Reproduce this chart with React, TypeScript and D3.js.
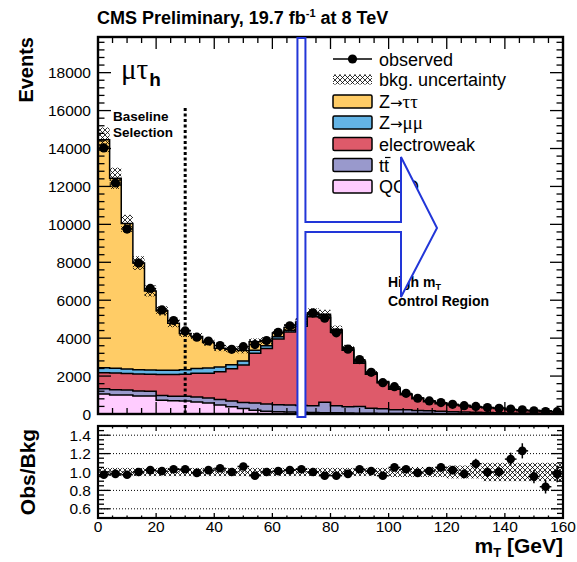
import React from 'react';
import * as d3 from 'd3';

// ---------- data ----------
const binLow = [0, 4, 8, 12, 16, 20, 24, 28, 32, 36, 40, 44, 48, 52, 56, 60, 64, 68, 72, 76,
  80, 84, 88, 92, 96, 100, 104, 108, 112, 116, 120, 124, 128, 132, 136, 140, 144, 148, 152, 156];
const binWidth = 4;

const observed = [14030, 12180, 9750, 7960, 6620, 5490, 4930, 4380, 4050, 3850,
  3610, 3410, 3550, 3660, 3870, 4310, 4650, 5000, 5330, 5050,
  4280, 3420, 2870, 2200, 1650, 1440, 1090, 830, 690, 600,
  510, 440, 400, 340, 300, 260, 220, 170, 130, 120];

const ratioObs = [0.97, 0.98, 0.97, 1.00, 1.02, 1.01, 1.03, 1.03, 0.99, 1.02,
  1.04, 1.00, 1.06, 0.96, 1.00, 1.01, 1.02, 1.03, 1.00, 0.96,
  0.96, 0.98, 1.03, 1.01, 0.96, 1.05, 1.03, 0.99, 1.01, 1.05,
  1.02, 0.98, 1.09, 1.00, 1.00, 1.14, 1.23, 0.95, 0.84, 0.98];

const qcd = [1050, 1000, 1000, 950, 950, 720, 700, 680, 630, 580,
  480, 380, 290, 200, 150, 120, 100, 90, 80, 70,
  60, 50, 40, 40, 30, 30, 20, 20, 20, 10,
  10, 10, 10, 5, 5, 5, 5, 5, 5, 5];

const ttbar = [280, 280, 270, 260, 250, 250, 240, 250, 260, 270,
  280, 310, 320, 380, 380, 370, 380, 360, 350, 550,
  380, 330, 350, 260, 250, 200, 210, 170, 150, 130,
  110, 100, 80, 70, 60, 50, 40, 40, 30, 30];

const electroweak = [850, 880, 860, 900, 900, 1110, 1140, 1170, 1260, 1300,
  1470, 1690, 1980, 2620, 2920, 3460, 3840, 4180, 4700, 4460,
  3870, 2980, 2290, 1790, 1370, 1080, 780, 610, 480, 405,
  360, 324, 267, 255, 227, 168, 130, 130, 116, 82];

const zMuMu = [260, 250, 240, 230, 220, 230, 230, 240, 250, 270,
  250, 220, 200, 160, 150, 120, 100, 100, 100, 90,
  80, 70, 60, 50, 40, 35, 30, 25, 20, 15,
  12, 10, 8, 6, 5, 4, 3, 3, 2, 2];

const zTauTau = [12020, 10020, 7680, 5620, 4170, 3130, 2480, 1910, 1690, 1350,
  990, 810, 560, 450, 270, 200, 140, 120, 100, 90,
  70, 60, 50, 40, 30, 25, 20, 15, 12, 10,
  8, 6, 5, 4, 3, 3, 2, 2, 2, 1];

const bkgRelUnc = [0.045, 0.045, 0.045, 0.045, 0.045, 0.045, 0.045, 0.045, 0.045, 0.045,
  0.045, 0.045, 0.045, 0.045, 0.045, 0.045, 0.045, 0.045, 0.045, 0.045,
  0.045, 0.045, 0.045, 0.045, 0.045, 0.055, 0.055, 0.055, 0.055, 0.055,
  0.07, 0.07, 0.07, 0.1, 0.1, 0.1, 0.1, 0.1, 0.1, 0.1];

const xTicks = [0, 20, 40, 60, 80, 100, 120, 140, 160];
const yTicks = [0, 2000, 4000, 6000, 8000, 10000, 12000, 14000, 16000, 18000];
const ratioTicks = [0.6, 0.8, 1.0, 1.2, 1.4];
const ratioTickLabels = ['0.6', '0.8', '1.0', '1.2', '1.4'];

const layerKeys = ['qcd', 'tt', 'ew', 'zmm', 'ztt'];
const layerColors: Record<string, string> = {
  ztt: '#ffcc66', zmm: '#63b4e6', ew: '#de5a6a', tt: '#9999cc', qcd: '#ffccff',
};

const FONT = "'Liberation Sans', Arial, Helvetica, sans-serif";
const SERIF = "'Liberation Serif', 'DejaVu Serif', serif";

export default function App() {
  const W = 577, H = 562;
  const L = 98, R = 563, T = 37, B = 414, RT = 426, RB = 518;
  const x = d3.scaleLinear().domain([0, 160]).range([L, R]);
  const y = d3.scaleLinear().domain([0, 19880]).range([B, T]);
  const yr = d3.scaleLinear().domain([0.5, 1.5]).range([RB, RT]);

  const rows = binLow.map((lo, i) => ({
    lo, qcd: qcd[i], tt: ttbar[i], ew: electroweak[i], zmm: zMuMu[i], ztt: zTauTau[i],
  }));
  const stacked = d3.stack<any>().keys(layerKeys)(rows);
  const total = rows.map(r => r.qcd + r.tt + r.ew + r.zmm + r.ztt);

  const area = d3.area<{ x: number; v: number }>()
    .x(d => x(d.x)).y0(y(0)).y1(d => y(d.v));
  const layerPath = (s: any) => area(s.flatMap((d: any, i: number) => [
    { x: binLow[i], v: d[1] }, { x: binLow[i] + binWidth, v: d[1] }]));

  const majorX = xTicks;
  const minorX = d3.range(0, 161, 5).filter(v => v % 20 !== 0);
  const minorY = d3.range(0, 19880, 400).filter(v => v % 2000 !== 0);
  const minorR = d3.range(0.5, 1.501, 0.05).map(v => +v.toFixed(2)).filter(v => Math.abs(v * 5 - Math.round(v * 5)) > 1e-6);

  const bx = x(70);
  const arrowPts = [
    [bx - 4, 38], [bx - 4, 417], [bx + 4, 417], [bx + 4, 232], [401, 232], [401, 297],
    [437, 228], [401, 157], [401, 222], [bx + 4, 222], [bx + 4, 38],
  ];

  const legendRows = [
    { y: 59, kind: 'obs', label: 'observed' },
    { y: 79.5, kind: 'unc', label: 'bkg. uncertainty' },
    { y: 101.5, kind: 'ztt' },
    { y: 122.5, kind: 'zmm' },
    { y: 144, kind: 'ew', label: 'electroweak' },
    { y: 165, kind: 'tt' },
    { y: 186.5, kind: 'qcd', label: 'QCD' },
  ];

  return (
    <svg width={W} height={H} style={{ position: 'absolute', left: 0, top: 0, background: '#fff' }}
      fontFamily={FONT}>
      <defs>
        <pattern id="hatch" width="5" height="5" patternUnits="userSpaceOnUse">
          <path d="M0,0 L5,5 M5,0 L0,5" stroke="#000" strokeWidth="0.8" />
        </pattern>
        <clipPath id="clipMain"><rect x={L} y={T} width={R - L} height={B - T} /></clipPath>
        <clipPath id="clipRatio"><rect x={L} y={RT} width={R - L} height={RB - RT} /></clipPath>
      </defs>
      <rect x={0} y={0} width={W} height={H} fill="#fff" />

      {/* title */}
      <text x={97} y={24} fontSize={18} fontWeight="bold">
        CMS Preliminary, 19.7 fb<tspan dy={-7} fontSize={11}>-1</tspan><tspan dy={7}> at 8 TeV</tspan>
      </text>

      {/* main plot */}
      <g clipPath="url(#clipMain)">
        {[...stacked].reverse().map(s => (
          <path key={s.key} d={layerPath(s) || ''} fill={layerColors[s.key]} stroke="#000" strokeWidth={1.5} strokeLinejoin="miter" />
        ))}
        {binLow.map((lo, i) => (
          <rect key={'u' + i} x={x(lo)} width={x(lo + binWidth) - x(lo)}
            y={y(total[i] * (1 + bkgRelUnc[i]))}
            height={y(total[i] * (1 - bkgRelUnc[i])) - y(total[i] * (1 + bkgRelUnc[i]))}
            fill="url(#hatch)" />
        ))}
        <line x1={x(30)} x2={x(30)} y1={108} y2={B} stroke="#000" strokeWidth={3} strokeDasharray="3,2.5" />
        {binLow.map((lo, i) => {
          const c = lo + binWidth / 2;
          const e = Math.sqrt(observed[i]);
          return (
            <g key={'o' + i}>
              <line x1={x(lo)} x2={x(lo + binWidth)} y1={y(observed[i])} y2={y(observed[i])} stroke="#000" strokeWidth={1.2} />
              <line x1={x(c)} x2={x(c)} y1={y(observed[i] + e)} y2={y(observed[i] - e)} stroke="#000" strokeWidth={1.5} />
              <circle cx={x(c)} cy={y(observed[i])} r={4.6} fill="#000" />
            </g>
          );
        })}
      </g>

      {/* main frame & ticks */}
      <g stroke="#000" strokeWidth={1.3}>
        {majorX.map(v => (<g key={'mx' + v}>
          <line x1={x(v)} x2={x(v)} y1={B} y2={B - 12} />
          <line x1={x(v)} x2={x(v)} y1={T} y2={T + 12} />
        </g>))}
        {minorX.map(v => (<g key={'nx' + v}>
          <line x1={x(v)} x2={x(v)} y1={B} y2={B - 6} />
          <line x1={x(v)} x2={x(v)} y1={T} y2={T + 6} />
        </g>))}
        {yTicks.map(v => (<g key={'my' + v}>
          <line x1={L} x2={L + 13} y1={y(v)} y2={y(v)} />
          <line x1={R} x2={R - 13} y1={y(v)} y2={y(v)} />
        </g>))}
        {minorY.map(v => (<g key={'ny' + v}>
          <line x1={L} x2={L + 6.5} y1={y(v)} y2={y(v)} />
          <line x1={R} x2={R - 6.5} y1={y(v)} y2={y(v)} />
        </g>))}
        <rect x={L} y={T} width={R - L} height={B - T} fill="none" strokeWidth={2.4} />
      </g>
      {yTicks.map(v => (
        <text key={'ly' + v} x={91} y={y(v) + 5.5} fontSize={15.5} textAnchor="end">{v}</text>
      ))}
      <text transform={`translate(33,37) rotate(-90)`} fontSize={20} fontWeight="bold" textAnchor="end">Events</text>

      {/* annotations */}
      <text x={121} y={79} fontSize={29} fontFamily={SERIF}>μτ<tspan dx={1} dy={7} fontSize={19} fontWeight="bold" fontFamily={FONT}>h</tspan></text>
      <text x={113} y={121} fontSize={13.5} fontWeight="bold">Baseline</text>
      <text x={113} y={137} fontSize={13.5} fontWeight="bold">Selection</text>
      <text x={388} y={287} fontSize={14} fontWeight="bold">High m<tspan dy={3} fontSize={9}>T</tspan></text>
      <text x={388} y={306} fontSize={14} fontWeight="bold">Control Region</text>

      {/* legend */}
      {legendRows.map(r => {
        const tx = 379, ty = r.y + 6.5;
        let sym: React.ReactNode = null;
        if (r.kind === 'obs') {
          sym = <g><line x1={333} x2={372} y1={r.y} y2={r.y} stroke="#000" strokeWidth={1.5} /><circle cx={352.5} cy={r.y} r={4.6} /></g>;
        } else if (r.kind === 'unc') {
          sym = <rect x={333} y={r.y - 5} width={39} height={10} fill="url(#hatch)" />;
        } else {
          sym = <rect x={333} y={r.y - 6.5} width={39} height={13} rx={1.5} fill={layerColors[r.kind]} stroke="#000" strokeWidth={1.5} />;
        }
        let label: React.ReactNode = r.label;
        if (r.kind === 'ztt') label = <>Z<tspan fontFamily="'DejaVu Sans', sans-serif" fontSize={15}>→</tspan><tspan fontFamily={SERIF} fontSize={19}>ττ</tspan></>;
        if (r.kind === 'zmm') label = <>Z<tspan fontFamily="'DejaVu Sans', sans-serif" fontSize={15}>→</tspan><tspan fontFamily={SERIF} fontSize={19}>μμ</tspan></>;
        if (r.kind === 'tt') label = <>tt</>;
        return (
          <g key={'lg' + r.kind}>
            {sym}
            <text x={tx} y={ty} fontSize={18}>{label}</text>
            {r.kind === 'tt' && <line x1={385} x2={390.5} y1={ty - 14} y2={ty - 14} stroke="#000" strokeWidth={1.2} />}
          </g>
        );
      })}

      {/* arrow overlay */}
      <polygon points={arrowPts.map(p => p.join(',')).join(' ')} fill="#ffffff" stroke="#2236d8" strokeWidth={2} strokeLinejoin="miter" />

      {/* ratio panel */}
      <g stroke="#000" strokeWidth={1} strokeDasharray="1,2">
        {ratioTicks.map(v => <line key={'g' + v} x1={L} x2={R} y1={yr(v)} y2={yr(v)} />)}
      </g>
      <g clipPath="url(#clipRatio)">
        {binLow.map((lo, i) => (
          <rect key={'ru' + i} x={x(lo)} width={x(lo + binWidth) - x(lo)}
            y={yr(1 + bkgRelUnc[i])} height={yr(1 - bkgRelUnc[i]) - yr(1 + bkgRelUnc[i])} fill="url(#hatch)" />
        ))}
        {binLow.map((lo, i) => {
          const c = lo + binWidth / 2;
          const e = Math.sqrt(observed[i]) / total[i];
          return (
            <g key={'ro' + i}>
              <line x1={x(lo)} x2={x(lo + binWidth)} y1={yr(ratioObs[i])} y2={yr(ratioObs[i])} stroke="#000" strokeWidth={1.5} />
              <line x1={x(c)} x2={x(c)} y1={yr(ratioObs[i] + e)} y2={yr(ratioObs[i] - e)} stroke="#000" strokeWidth={1.5} />
              <circle cx={x(c)} cy={yr(ratioObs[i])} r={4.3} fill="#000" />
            </g>
          );
        })}
      </g>
      <g stroke="#000" strokeWidth={1.3}>
        {majorX.map(v => (<g key={'rmx' + v}>
          <line x1={x(v)} x2={x(v)} y1={RB} y2={RB - 5} />
          <line x1={x(v)} x2={x(v)} y1={RT} y2={RT + 5} />
        </g>))}
        {minorX.map(v => (<g key={'rnx' + v}>
          <line x1={x(v)} x2={x(v)} y1={RB} y2={RB - 2.5} />
          <line x1={x(v)} x2={x(v)} y1={RT} y2={RT + 2.5} />
        </g>))}
        {ratioTicks.map(v => (<g key={'rmy' + v}>
          <line x1={L} x2={L + 12} y1={yr(v)} y2={yr(v)} />
          <line x1={R} x2={R - 12} y1={yr(v)} y2={yr(v)} />
        </g>))}
        {minorR.map(v => (<g key={'rny' + v}>
          <line x1={L} x2={L + 6} y1={yr(v)} y2={yr(v)} />
          <line x1={R} x2={R - 6} y1={yr(v)} y2={yr(v)} />
        </g>))}
        <rect x={L} y={RT} width={R - L} height={RB - RT} fill="none" strokeWidth={2.2} />
      </g>
      {ratioTicks.map((v, i) => (
        <text key={'lr' + v} x={91} y={yr(v) + 5.5} fontSize={15.5} textAnchor="end">{ratioTickLabels[i]}</text>
      ))}
      {xTicks.map(v => (
        <text key={'lx' + v} x={x(v)} y={532} fontSize={15.5} textAnchor="middle">{v}</text>
      ))}
      <text transform={`translate(35,472) rotate(-90)`} fontSize={21} fontWeight="bold" textAnchor="middle">Obs/Bkg</text>
      <text x={563} y={553} fontSize={21} fontWeight="bold" textAnchor="end">m<tspan dy={4} fontSize={13}>T</tspan><tspan dy={-4}> [GeV]</tspan></text>
    </svg>
  );
}
